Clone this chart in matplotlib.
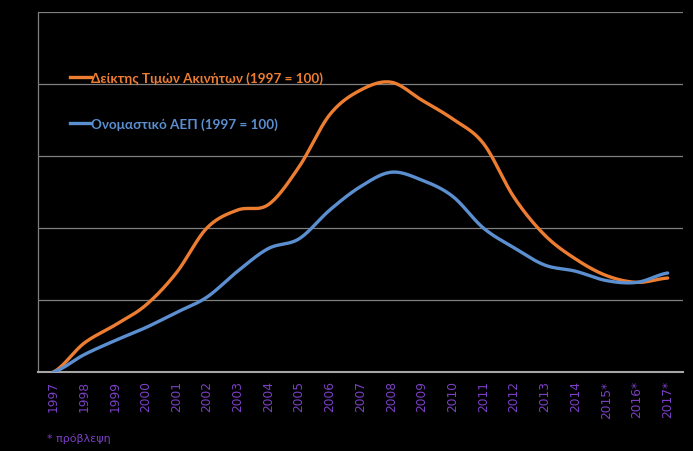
import numpy as np
import matplotlib.pyplot as plt

years = ["1997", "1998", "1999", "2000", "2001", "2002", "2003", "2004", "2005",
         "2006", "2007", "2008", "2009", "2010", "2011", "2012", "2013", "2014",
         "2015*", "2016*", "2017*"]
house_prices = [100, 108, 113, 118.5, 127.5, 140, 145, 146.5, 157, 171.5, 178.3,
                180.5, 175.5, 170.3, 163.5, 148.5, 138, 131.4, 126.8, 124.9, 126.1]
gdp = [100, 104.8, 108.7, 112.3, 116.5, 120.8, 128, 134.3, 137, 145, 151.5,
       155.5, 153.3, 148.8, 140, 134.5, 129.7, 128, 125.4, 124.9, 127.5]

label_prices = "Δείκτης Τιμών Ακινήτων (1997 = 100)"
label_gdp = "Ονομαστικό ΑΕΠ (1997 = 100)"


def smooth(y, n=30):
    # catmull-rom like excel's smoothed lines
    y = np.asarray(y, dtype=float)
    p = np.concatenate([[y[0]], y, [y[-1]]])
    xs, ys = [], []
    for i in range(len(y) - 1):
        p0, p1, p2, p3 = p[i], p[i + 1], p[i + 2], p[i + 3]
        t = np.linspace(0, 1, n, endpoint=False)
        yy = 0.5 * (2 * p1 + (-p0 + p2) * t + (2 * p0 - 5 * p1 + 4 * p2 - p3) * t ** 2
                    + (-p0 + 3 * p1 - 3 * p2 + p3) * t ** 3)
        xs.append(i + t)
        ys.append(yy)
    xs.append([len(y) - 1])
    ys.append([y[-1]])
    return np.concatenate(xs), np.concatenate(ys)


fig = plt.figure(figsize=(6.93, 4.52), dpi=100, facecolor="black")
ax = fig.add_axes([0.0548, 0.1748, 0.9308, 0.7964], facecolor="black")

x = np.arange(len(years))
sx, sy = smooth(house_prices)
ax.plot(sx, sy, color="#ED7D31", lw=2.4, solid_capstyle="round", zorder=3)
sx, sy = smooth(gdp)
ax.plot(sx, sy, color="#5B8FD0", lw=2.4, solid_capstyle="round", zorder=3)

ax.set_xlim(-0.5, 20.5)
ax.set_ylim(100, 200)
ax.set_yticks([120, 140, 160, 180, 200])
ax.yaxis.grid(True, color="#7f7f7f", lw=0.9)
ax.set_axisbelow(True)
ax.tick_params(axis="y", left=False, labelleft=False)
ax.set_xticks(x)
ax.set_xticklabels(years, rotation=90, color="#7B3FC4", fontsize=8.8,
                   fontfamily="DejaVu Sans", va="top")
ax.tick_params(axis="x", length=0, pad=6)
for s in ["top", "right"]:
    ax.spines[s].set_visible(False)
ax.spines["left"].set_color("#7f7f7f")
ax.spines["left"].set_linewidth(0.9)
ax.spines["bottom"].set_color("#a6a6a6")
ax.spines["bottom"].set_linewidth(1.5)

# legend drawn as text inside the plot
for yy, col, lab in [(0.827, "#ED7D31", label_prices), (0.725, "#5B8FD0", label_gdp)]:
    fig.add_artist(plt.Line2D([0.101, 0.131], [yy, yy], color=col, lw=2.4))
    fig.text(0.132, yy, lab, color=col, fontsize=9.7, fontfamily="Lato",
             fontweight="bold", va="center", ha="left")

fig.text(0.068, 0.03, "* πρόβλεψη", color="#7B3FC4", fontsize=8,
         fontfamily="DejaVu Sans", va="center")

fig.savefig("out.png", dpi=100, facecolor="black")
